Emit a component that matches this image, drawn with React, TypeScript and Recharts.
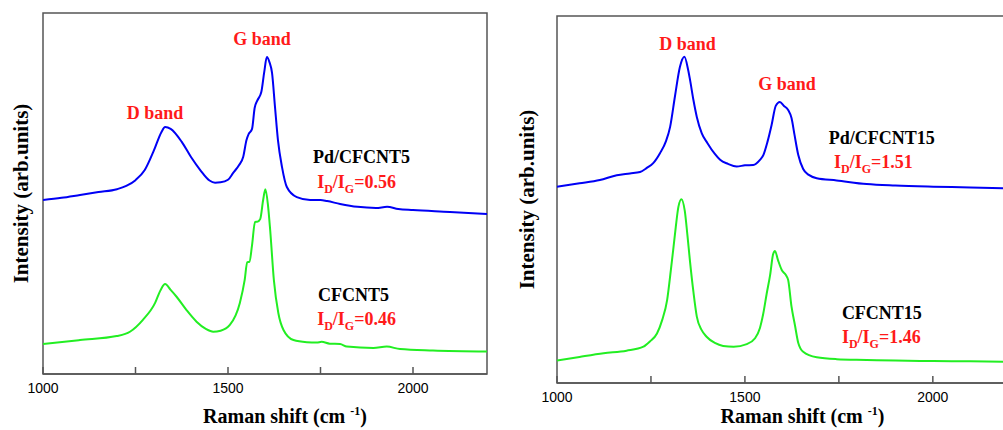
import { Label, Line, LineChart, ReferenceArea, ReferenceDot, XAxis, YAxis } from "recharts";

// Raman spectra (intensity in arbitrary units, 0-100 of the frame)
const pdCfcnt5Shift = [1000, 1050, 1100, 1150, 1200, 1225, 1250, 1275, 1300, 1320, 1330, 1345, 1375, 1400, 1425, 1450, 1465, 1480, 1500, 1514, 1530, 1541, 1550, 1556, 1565, 1572, 1580, 1590, 1598, 1605, 1612, 1619, 1627, 1635, 1646, 1659, 1686, 1722, 1750, 1768, 1803, 1850, 1900, 1930, 1960, 2000, 2100, 2200];
const pdCfcnt5Intensity = [48.2, 48.8, 49.6, 50.4, 51.2, 52.1, 53.7, 56.5, 62.0, 67.0, 68.4, 67.9, 64.3, 60.1, 56.5, 53.6, 53.0, 53.1, 53.8, 55.7, 57.9, 60.1, 64.8, 66.5, 67.9, 73.7, 75.9, 78.1, 83.7, 87.8, 86.4, 83.4, 74.0, 64.8, 57.3, 51.8, 49.0, 48.2, 48.2, 47.9, 47.1, 46.3, 46.0, 46.3, 45.7, 45.4, 44.9, 44.3];

const cfcnt5Shift = [1000, 1100, 1199, 1235, 1270, 1303, 1318, 1330, 1345, 1361, 1388, 1415, 1440, 1460, 1480, 1505, 1532, 1545, 1552, 1558, 1565, 1573, 1580, 1587, 1595, 1601, 1608, 1614, 1624, 1636, 1650, 1677, 1713, 1740, 1753, 1775, 1803, 1821, 1893, 1929, 1965, 2054, 2200];
const cfcnt5Intensity = [8.3, 9.4, 10.5, 11.7, 15.0, 19.7, 23.3, 24.9, 23.3, 21.4, 17.7, 14.5, 12.5, 11.7, 12.0, 13.6, 19.7, 26.0, 31.0, 31.1, 35.7, 42.1, 42.2, 42.9, 48.2, 51.2, 46.8, 39.9, 26.0, 16.9, 12.2, 9.4, 8.8, 8.7, 8.9, 8.4, 8.3, 7.6, 7.2, 7.6, 6.9, 6.5, 6.2];

const pdCfcnt15Shift = [1000, 1060, 1114, 1159, 1194, 1221, 1239, 1256, 1274, 1290, 1301, 1314, 1327, 1339, 1349, 1354, 1363, 1372, 1385, 1400, 1420, 1434, 1455, 1478, 1500, 1522, 1540, 1549, 1560, 1571, 1582, 1593, 1604, 1615, 1624, 1632, 1642, 1655, 1670, 1691, 1744, 1824, 1900, 2001, 2100, 2200];
const pdCfcnt15Intensity = [53.5, 54.4, 55.3, 56.6, 57.1, 57.5, 58.6, 59.9, 62.6, 65.9, 69.8, 78.2, 86.1, 88.9, 85.3, 82.6, 77.1, 72.5, 68.1, 65.4, 62.4, 60.8, 59.7, 59.0, 59.3, 59.4, 60.8, 62.1, 65.7, 70.3, 75.5, 76.6, 75.5, 74.4, 72.2, 67.6, 62.1, 58.3, 56.7, 55.8, 55.2, 54.2, 53.8, 53.5, 53.3, 53.0];

const cfcnt15Shift = [1000, 1060, 1124, 1185, 1230, 1247, 1266, 1280, 1293, 1303, 1310, 1316, 1323, 1331, 1340, 1347, 1354, 1363, 1372, 1385, 1398, 1420, 1442, 1470, 1505, 1527, 1540, 1549, 1558, 1567, 1575, 1580, 1588, 1598, 1609, 1615, 1624, 1633, 1642, 1655, 1691, 1744, 1824, 1900, 2001, 2100, 2200];
const cfcnt15Intensity = [6.1, 7.1, 8.1, 8.8, 9.9, 11.3, 13.5, 17.2, 22.6, 30.8, 37.0, 42.5, 48.0, 50.1, 46.9, 40.3, 33.0, 24.8, 18.1, 14.4, 12.6, 10.9, 10.1, 9.9, 10.6, 12.2, 15.0, 19.0, 24.4, 29.4, 35.1, 36.0, 33.5, 30.8, 29.4, 28.1, 20.8, 15.8, 10.9, 8.5, 7.0, 6.5, 6.3, 6.1, 6.0, 5.9, 5.8];

const shiftTicks = [1000, 1250, 1500, 1750, 2000];
const labelledTicks = [1000, 1500, 2000];

const BLUE = "#0000f5";
const GREEN = "#22ee22";
const RED = "#ff1a1a";
const FRAME = "#555";
const SERIF = '"Liberation Serif", "Times New Roman", serif';
const SANS = '"Liberation Sans", Arial, sans-serif';

type Part = { text: string; sub?: boolean };
type Note = { shift: number; level: number; parts: Part[]; color: string; anchor: "start" | "middle" };

const ratio = (v: string): Part[] => [
  { text: "I" },
  { text: "D", sub: true },
  { text: "/I" },
  { text: "G", sub: true },
  { text: `=${v}` },
];

const leftNotes: Note[] = [
  { shift: 1303, level: 70.6, parts: [{ text: "D band" }], color: RED, anchor: "middle" },
  { shift: 1592, level: 91.1, parts: [{ text: "G band" }], color: RED, anchor: "middle" },
  { shift: 1730, level: 58.4, parts: [{ text: "Pd/CFCNT5" }], color: "#000", anchor: "start" },
  { shift: 1741, level: 51.5, parts: ratio("0.56"), color: RED, anchor: "start" },
  { shift: 1743, level: 20.2, parts: [{ text: "CFCNT5" }], color: "#000", anchor: "start" },
  { shift: 1741, level: 13.6, parts: ratio("0.46"), color: RED, anchor: "start" },
];

const rightNotes: Note[] = [
  { shift: 1347, level: 90.7, parts: [{ text: "D band" }], color: RED, anchor: "middle" },
  { shift: 1612, level: 79.8, parts: [{ text: "G band" }], color: RED, anchor: "middle" },
  { shift: 1723, level: 65.1, parts: [{ text: "Pd/CFCNT15" }], color: "#000", anchor: "start" },
  { shift: 1737, level: 58.6, parts: ratio("1.51"), color: RED, anchor: "start" },
  { shift: 1758, level: 17.4, parts: [{ text: "CFCNT15" }], color: "#000", anchor: "start" },
  { shift: 1758, level: 10.9, parts: ratio("1.46"), color: RED, anchor: "start" },
];

const zip = (shift: number[], intensity: number[]) =>
  shift.map((s, i) => ({ shift: s, intensity: intensity[i] }));

function NoteText({ cx, cy, note }: { cx: number; cy: number; note: Note }) {
  let shifted = false;
  return (
    <text x={cx} y={cy} fill={note.color} textAnchor={note.anchor} fontFamily={SERIF} fontWeight="bold" fontSize={18}>
      {note.parts.map((p, i) => {
        let dy = 0;
        if (p.sub && !shifted) { dy = 5; shifted = true; }
        else if (!p.sub && shifted) { dy = -5; shifted = false; }
        return (
          <tspan key={i} dy={dy} fontSize={p.sub ? 12 : 18}>{p.text}</tspan>
        );
      })}
    </text>
  );
}

interface PanelProps {
  width: number;
  margin: { top: number; right: number; bottom: number; left: number };
  series: { key: string; color: string; data: { shift: number; intensity: number }[] }[];
  notes: Note[];
  yTitleGap: number;
}

function Panel({ width, margin, series, notes, yTitleGap }: PanelProps) {
  return (
    <LineChart width={width} height={430} margin={margin}>
      <XAxis
        dataKey="shift"
        type="number"
        domain={[1000, 2200]}
        allowDataOverflow
        ticks={shiftTicks}
        interval={0}
        height={30}
        tickSize={-7}
        tickMargin={16}
        tickFormatter={(v: number) => (labelledTicks.includes(v) ? String(v) : "")}
        tick={{ fill: "#000", fontSize: 14, fontFamily: SANS }}
        axisLine={{ stroke: FRAME, strokeWidth: 1.5 }}
        tickLine={{ stroke: FRAME, strokeWidth: 1.5 }}
      >
        <Label
          content={(p: any) => {
            const vb = p.viewBox;
            return (
              <text x={vb.x + vb.width / 2 + 20} y={423} textAnchor="middle" fontFamily={SERIF} fontWeight="bold" fontSize={20} fill="#000">
                Raman shift (cm <tspan fontSize={12} dy={-8}>-1</tspan><tspan dy={8}>)</tspan>
              </text>
            );
          }}
        />
      </XAxis>
      <YAxis type="number" domain={[0, 100]} width={0} tick={false} axisLine={false} tickLine={false} />
      <ReferenceArea x1={1000} x2={2200} y1={0} y2={100} fill="none" stroke={FRAME} strokeWidth={1.5} ifOverflow="visible">
        <Label
          content={(p: any) => {
            const vb = p.viewBox;
            const x = vb.x - yTitleGap;
            const y = vb.y + vb.height / 2;
            return (
              <text transform={`translate(${x},${y}) rotate(-90)`} textAnchor="middle" fontFamily={SERIF} fontWeight="bold" fontSize={21} fill="#000">
                Intensity (arb.units)
              </text>
            );
          }}
        />
      </ReferenceArea>
      {series.map((s) => (
        <Line
          key={s.key}
          data={s.data}
          dataKey="intensity"
          type="monotone"
          stroke={s.color}
          strokeWidth={2}
          dot={false}
          activeDot={false}
          isAnimationActive={false}
        />
      ))}
      {notes.map((n, i) => (
        <ReferenceDot
          key={i}
          x={n.shift}
          y={n.level}
          r={1}
          ifOverflow="visible"
          shape={(p: any) => <NoteText cx={p.cx} cy={p.cy} note={n} />}
        />
      ))}
    </LineChart>
  );
}

export default function App() {
  return (
    <div style={{ position: "fixed", left: 0, top: 0, width: 1003, height: 430, overflow: "hidden", background: "#fff" }}>
      <div style={{ position: "absolute", left: 0, top: 0 }}>
        <Panel
          width={500}
          margin={{ top: 13, right: 13, bottom: 26, left: 43 }}
          yTitleGap={15}
          notes={leftNotes}
          series={[
            { key: "Pd/CFCNT5", color: BLUE, data: zip(pdCfcnt5Shift, pdCfcnt5Intensity) },
            { key: "CFCNT5", color: GREEN, data: zip(cfcnt5Shift, cfcnt5Intensity) },
          ]}
        />
      </div>
      <div style={{ position: "absolute", left: 500, top: 0 }}>
        <Panel
          width={520}
          margin={{ top: 16, right: 12, bottom: 17, left: 57 }}
          yTitleGap={23}
          notes={rightNotes}
          series={[
            { key: "Pd/CFCNT15", color: BLUE, data: zip(pdCfcnt15Shift, pdCfcnt15Intensity) },
            { key: "CFCNT15", color: GREEN, data: zip(cfcnt15Shift, cfcnt15Intensity) },
          ]}
        />
      </div>
    </div>
  );
}
